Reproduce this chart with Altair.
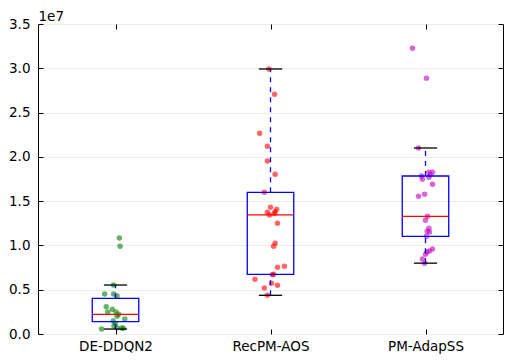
import altair as alt
import pandas as pd

categories = ["DE-DDQN2", "RecPM-AOS", "PM-AdapSS"]
positions = [1, 2, 3]
point_colors = ["#008000", "#ff0000", "#bf00bf"]
SCALE = 1e7

# box-plot summaries (units of 1e7)
q1 = [0.139, 0.674, 1.103]
median = [0.222, 1.344, 1.329]
q3 = [0.403, 1.600, 1.784]
whislo = [0.056, 0.437, 0.800]
whishi = [0.553, 2.992, 2.100]

de_values = [1.084, 0.990, 0.553, 0.452, 0.452, 0.430, 0.308, 0.279, 0.248, 0.248,
             0.222, 0.200, 0.169, 0.147, 0.120, 0.090, 0.070, 0.068, 0.065, 0.056]
de_jitter = [0.025, 0.030, -0.012, -0.070, -0.012, 0.010, -0.060, -0.020, -0.050, 0.003,
             0.020, 0.010, 0.060, -0.015, 0.000, -0.010, 0.010, 0.040, 0.050, -0.090]

rec_values = [2.992, 2.706, 2.266, 2.119, 1.953, 1.803, 1.600, 1.430, 1.408, 1.380,
              1.374, 1.360, 1.344, 1.250, 1.024, 0.990, 0.764, 0.753, 0.674, 0.670,
              0.618, 0.572, 0.550, 0.519, 0.437]
rec_jitter = [-0.010, 0.026, -0.070, -0.020, -0.020, 0.030, -0.040, 0.000, 0.040, 0.030,
              -0.020, 0.025, -0.006, 0.045, 0.030, 0.020, 0.090, 0.045, 0.020, 0.013,
              -0.100, 0.006, 0.045, -0.040, -0.020]

pm_values = [3.226, 2.887, 2.100, 1.826, 1.826, 1.800, 1.784, 1.770, 1.747, 1.690,
             1.577, 1.555, 1.329, 1.284, 1.193, 1.160, 1.152, 1.103, 0.960, 0.937,
             0.926, 0.900, 0.847, 0.800]
pm_jitter = [-0.084, 0.006, -0.045, 0.022, 0.045, 0.030, -0.026, 0.022, -0.020, 0.045,
             -0.006, -0.045, 0.013, 0.000, 0.022, 0.011, 0.026, 0.006, 0.045, 0.026,
             0.009, 0.000, -0.020, -0.006]

y_ticks = [0.0, 0.5, 1.0, 1.5, 2.0, 2.5, 3.0, 3.5]

BOX_HALF = 0.15
CAP_HALF = 0.075
FONT = "DejaVu Sans"
FS = 13.5

# ---- tables ----
rows = []
for cat, pos, vals, jit in zip(categories, positions,
                               [de_values, rec_values, pm_values],
                               [de_jitter, rec_jitter, pm_jitter]):
    for v, j in zip(vals, jit):
        rows.append({"cat": cat, "x": pos + j, "y": v * SCALE})
points = pd.DataFrame(rows)

box = pd.DataFrame({
    "cat": categories,
    "xl": [p - BOX_HALF for p in positions],
    "xh": [p + BOX_HALF for p in positions],
    "xc": positions,
    "q1": [v * SCALE for v in q1],
    "med": [v * SCALE for v in median],
    "q3": [v * SCALE for v in q3],
    "lo": [v * SCALE for v in whislo],
    "hi": [v * SCALE for v in whishi],
})

caps_rows = []
for p, lo, hi in zip(positions, whislo, whishi):
    caps_rows.append({"xl": p - CAP_HALF, "xh": p + CAP_HALF, "y": lo * SCALE})
    caps_rows.append({"xl": p - CAP_HALF, "xh": p + CAP_HALF, "y": hi * SCALE})
caps = pd.DataFrame(caps_rows)

xscale = alt.Scale(domain=[0.5, 3.5], nice=False, zero=False)
yscale = alt.Scale(domain=[0, 3.5 * SCALE], nice=False, zero=False)

label_expr = " : ".join(
    f"datum.value == {p} ? '{c}'" for p, c in zip(positions, categories)
) + " : ''"

common_axis = dict(domain=False, tickColor="black", tickWidth=1, tickSize=5, offset=-5,
                   labelFont=FONT, labelFontSize=FS, labelColor="black")

x_bottom = alt.Axis(orient="bottom", values=positions, labelExpr=label_expr, title=None,
                    grid=False, labelPadding=5, **common_axis)
y_left = alt.Axis(orient="left", values=[v * SCALE for v in y_ticks],
                  labelExpr="format(datum.value / 1e7, '.1f')",
                  title="1e7", titleAngle=0, titleAlign="left", titleBaseline="bottom",
                  titleX=-5, titleY=-1, titleFont=FONT, titleFontSize=FS,
                  titleFontWeight="normal", titleColor="black",
                  grid=True, gridColor="#ebebeb", gridWidth=1, labelPadding=8,
                  **common_axis)
x_top = alt.Axis(orient="top", values=positions, labels=False, title=None, grid=False,
                 **common_axis)
y_right = alt.Axis(orient="right", values=[v * SCALE for v in y_ticks], labels=False,
                   title=None, grid=False, **common_axis)

color = alt.Color("cat:N", scale=alt.Scale(domain=categories, range=point_colors), legend=None)

box_layer = alt.Chart(box).mark_rect(filled=False, stroke="#0000ff", strokeWidth=1.3).encode(
    x=alt.X("xl:Q", scale=xscale, axis=None), x2="xh:Q",
    y=alt.Y("q1:Q", scale=yscale, axis=None), y2="q3:Q")

median_layer = alt.Chart(box).mark_rule(color="#ff0000", strokeWidth=1.3).encode(
    x=alt.X("xl:Q", scale=xscale, axis=None), x2="xh:Q",
    y=alt.Y("med:Q", scale=yscale, axis=None))

whisk_hi = alt.Chart(box).mark_rule(color="#0000ff", strokeWidth=1.3, strokeDash=[5, 5]).encode(
    x=alt.X("xc:Q", scale=xscale, axis=None),
    y=alt.Y("q3:Q", scale=yscale, axis=None), y2="hi:Q")

whisk_lo = alt.Chart(box).mark_rule(color="#0000ff", strokeWidth=1.3, strokeDash=[5, 5]).encode(
    x=alt.X("xc:Q", scale=xscale, axis=None),
    y=alt.Y("lo:Q", scale=yscale, axis=None), y2="q1:Q")

caps_layer = alt.Chart(caps).mark_rule(color="black", strokeWidth=1.3).encode(
    x=alt.X("xl:Q", scale=xscale, axis=x_top), x2="xh:Q",
    y=alt.Y("y:Q", scale=yscale, axis=y_right))

points_layer = alt.Chart(points).mark_circle(size=30, opacity=0.6).encode(
    x=alt.X("x:Q", scale=xscale, axis=x_bottom),
    y=alt.Y("y:Q", scale=yscale, axis=y_left),
    color=color)

chart = alt.layer(
    points_layer, whisk_lo, whisk_hi, box_layer, median_layer, caps_layer
).resolve_axis(x="independent", y="independent").properties(
    width=465, height=310,
    autosize=alt.AutoSizeParams(type="none"),
    padding={"left": 30, "top": 16, "right": 1, "bottom": 22},
    background="white",
).configure_view(stroke="black", strokeWidth=1)

chart.save("out.html", embed_options={"renderer": "svg", "actions": False})
